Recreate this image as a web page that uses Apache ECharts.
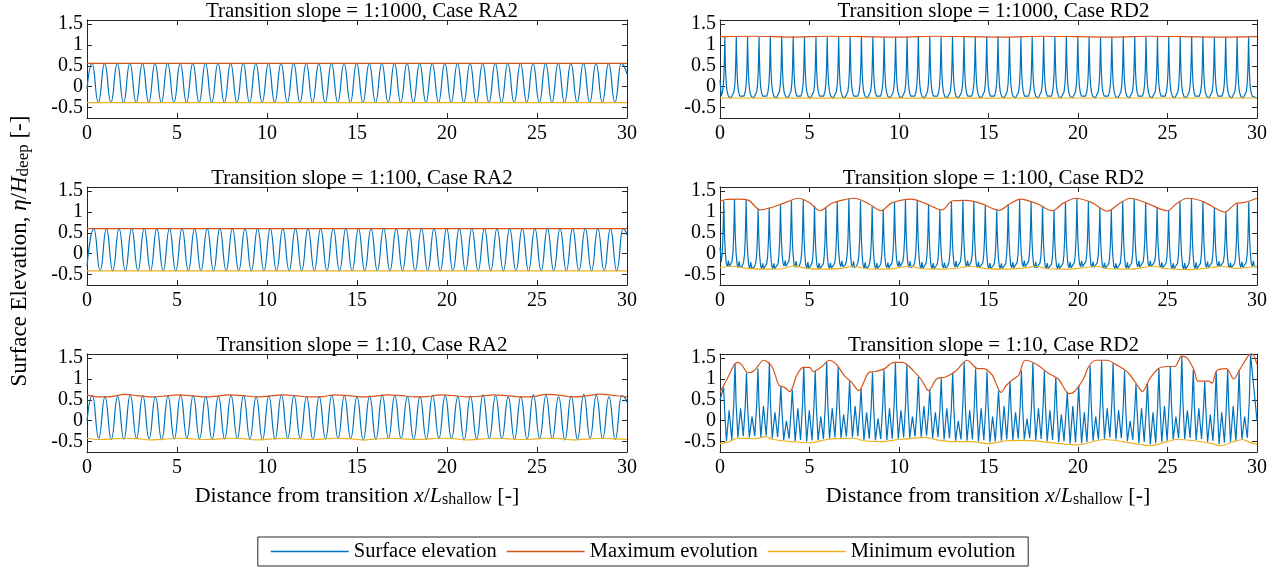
<!DOCTYPE html>
<html><head><meta charset="utf-8">
<script src="https://cdn.jsdelivr.net/npm/echarts@6/dist/echarts.min.js"></script>
<style>html,body{margin:0;padding:0;background:#fff}#c{width:1286px;height:571px}</style>
</head><body><div id="c"></div>
<script>
// ---------------- DATA ----------------
const xTickValues = [0, 5, 10, 15, 20, 25, 30];
const yTickValues = [-0.5, 0, 0.5, 1, 1.5];
const panelTitles = [
  'Transition slope = 1:1000, Case RA2', 'Transition slope = 1:1000, Case RD2',
  'Transition slope = 1:100, Case RA2', 'Transition slope = 1:100, Case RD2',
  'Transition slope = 1:10, Case RA2', 'Transition slope = 1:10, Case RD2'
];
const seriesNames = ['Surface elevation', 'Maximum evolution', 'Minimum evolution'];

// Panel A: 1:1000 RA2
const raA_crestX = [0.28,0.98,1.68,2.38,3.08,3.78,4.48,5.18,5.88,6.58,7.28,7.98,8.68,9.38,10.08,10.78,11.48,12.18,12.88,13.58,14.28,14.98,15.68,16.38,17.08,17.78,18.48,19.18,19.88,20.58,21.28,21.98,22.68,23.38,24.08,24.78,25.48,26.18,26.88,27.58,28.28,28.98,29.68];
const raA_crestY = [0.56,0.56,0.56,0.56,0.56,0.56,0.56,0.56,0.56,0.56,0.56,0.56,0.56,0.56,0.56,0.56,0.56,0.56,0.56,0.56,0.56,0.56,0.56,0.56,0.56,0.56,0.56,0.56,0.56,0.56,0.56,0.56,0.56,0.56,0.56,0.56,0.56,0.56,0.56,0.56,0.56,0.56,0.56];
const raA_troughY = [-0.38,-0.38,-0.38,-0.38,-0.38,-0.38,-0.38,-0.38,-0.38,-0.38,-0.38,-0.38,-0.38,-0.38,-0.38,-0.38,-0.38,-0.38,-0.38,-0.38,-0.38,-0.38,-0.38,-0.38,-0.38,-0.38,-0.38,-0.38,-0.38,-0.38,-0.38,-0.38,-0.38,-0.38,-0.38,-0.38,-0.38,-0.38,-0.38,-0.38,-0.38,-0.38];
const raA_ends = [-0.05, 0.3];
const maxA_x = [0, 30], maxA_y = [0.56, 0.56];
const minA_x = [0, 30], minA_y = [-0.38, -0.38];

// Panel B: 1:1000 RD2
const rdB_peakX = [0.27,0.91,1.54,2.18,2.81,3.45,4.09,4.72,5.36,5.99,6.63,7.27,7.9,8.54,9.17,9.81,10.45,11.08,11.72,12.35,12.99,13.63,14.26,14.9,15.53,16.17,16.81,17.44,18.08,18.71,19.35,19.99,20.62,21.26,21.89,22.53,23.17,23.8,24.44,25.07,25.71,26.35,26.98,27.62,28.25,28.89,29.53];
const rdB_peakY = [1.2,1.21,1.2,1.19,1.2,1.21,1.21,1.2,1.19,1.19,1.2,1.21,1.21,1.2,1.19,1.19,1.2,1.21,1.21,1.2,1.19,1.19,1.2,1.21,1.21,1.2,1.19,1.19,1.2,1.21,1.21,1.2,1.19,1.19,1.2,1.21,1.21,1.2,1.19,1.19,1.2,1.21,1.21,1.2,1.19,1.2,1.2];
const rdB_troughY = [-0.27,-0.27,-0.27,-0.27,-0.27,-0.27,-0.27,-0.27,-0.27,-0.27,-0.27,-0.27,-0.27,-0.27,-0.27,-0.27,-0.27,-0.27,-0.27,-0.27,-0.27,-0.27,-0.27,-0.27,-0.27,-0.27,-0.27,-0.27,-0.27,-0.27,-0.27,-0.27,-0.27,-0.27,-0.27,-0.27,-0.27,-0.27,-0.27,-0.27,-0.27,-0.27,-0.27,-0.27,-0.27,-0.27,-0.27,-0.27];
const rdB_shapeDx = [-0.3,-0.2,-0.13,-0.08,-0.045,-0.02,0,0.02,0.045,0.08,0.13,0.2,0.3];
const rdB_shapeFrac = [0,0.03,0.1,0.22,0.42,0.7,1,0.7,0.42,0.22,0.1,0.03,0];
const maxB_x = [0,2,4,6,8,10,12,14,16,18,20,22,24,26,28,30];
const maxB_y = [1.2,1.21,1.19,1.21,1.2,1.19,1.21,1.2,1.19,1.21,1.2,1.19,1.21,1.2,1.19,1.2];
const minB_x = [0, 10, 20, 30], minB_y = [-0.27, -0.275, -0.27, -0.27];

// Panel C: 1:100 RA2
const raC_crestX = [0.38,1.08,1.78,2.48,3.18,3.88,4.58,5.28,5.98,6.68,7.38,8.08,8.78,9.48,10.18,10.88,11.58,12.28,12.98,13.68,14.38,15.08,15.78,16.48,17.18,17.88,18.58,19.28,19.98,20.68,21.38,22.08,22.78,23.48,24.18,24.88,25.58,26.28,26.98,27.68,28.38,29.08,29.78];
const raC_crestY = [0.6,0.6,0.6,0.6,0.6,0.6,0.6,0.6,0.6,0.6,0.6,0.6,0.6,0.6,0.6,0.6,0.6,0.6,0.6,0.6,0.6,0.6,0.6,0.6,0.6,0.6,0.6,0.6,0.6,0.6,0.6,0.6,0.6,0.6,0.6,0.6,0.6,0.6,0.6,0.6,0.6,0.6,0.6];
const raC_troughY = [-0.41,-0.41,-0.41,-0.41,-0.41,-0.41,-0.41,-0.41,-0.41,-0.41,-0.41,-0.41,-0.41,-0.41,-0.41,-0.41,-0.41,-0.41,-0.41,-0.41,-0.41,-0.41,-0.41,-0.41,-0.41,-0.41,-0.41,-0.41,-0.41,-0.41,-0.41,-0.41,-0.41,-0.41,-0.41,-0.41,-0.41,-0.41,-0.41,-0.41,-0.41,-0.41];
const raC_ends = [-0.3, 0.45];
const maxC_x = [0, 30], maxC_y = [0.6, 0.6];
const minC_x = [0, 30], minC_y = [-0.41, -0.41];

// Panel D: 1:100 RD2
const rdD_peakX = [0.21,0.81,1.46,2.13,2.75,3.38,3.99,4.65,5.28,5.91,6.55,7.2,7.85,8.5,9.12,9.75,10.36,11.02,11.65,12.28,12.93,13.57,14.18,14.82,15.46,16.1,16.74,17.38,18.02,18.66,19.3,19.94,20.58,21.22,21.86,22.5,23.14,23.78,24.42,25.06,25.7,26.34,26.98,27.62,28.26,28.9,29.54];
const rdD_peakY = [1.28,1.31,1.29,1.08,1.1,1.18,1.28,1.3,1.15,1.1,1.25,1.31,1.27,1.14,1.06,1.24,1.29,1.28,1.17,1.06,1.26,1.28,1.25,1.16,1.06,1.18,1.3,1.25,1.15,1.05,1.24,1.33,1.25,1.12,1.06,1.25,1.32,1.23,1.12,1.05,1.27,1.32,1.25,1.12,1.02,1.2,1.24];
const rdD_troughY = [-0.33,-0.31,-0.33,-0.35,-0.36,-0.36,-0.3,-0.32,-0.35,-0.36,-0.35,-0.31,-0.33,-0.35,-0.36,-0.34,-0.31,-0.33,-0.35,-0.36,-0.34,-0.32,-0.31,-0.34,-0.36,-0.36,-0.34,-0.31,-0.34,-0.36,-0.36,-0.34,-0.31,-0.33,-0.35,-0.36,-0.35,-0.32,-0.31,-0.34,-0.36,-0.37,-0.36,-0.33,-0.31,-0.34,-0.33,-0.31];
const rdD_shapeDx = [-0.3,-0.22,-0.14,-0.09,-0.05,-0.022,0,0.022,0.05,0.09,0.14,0.2,0.26,0.31];
const rdD_shapeFrac = [0,0.02,0.08,0.2,0.42,0.7,1,0.7,0.42,0.2,0.05,0,0.09,0];
const maxD_x = [0,0.3,1.0,1.6,2.25,2.8,3.5,4.4,5.0,5.6,6.2,7.0,7.5,8.3,9.0,9.6,10.7,11.5,12.4,13.0,13.8,14.6,15.6,16.2,16.8,17.7,18.55,19.2,19.9,20.8,21.65,22.3,22.9,23.8,25.0,25.5,26.1,27.0,28.2,28.8,29.3,30];
const maxD_y = [1.25,1.3,1.31,1.28,1.05,1.1,1.2,1.33,1.22,1.03,1.2,1.3,1.33,1.2,1.03,1.22,1.31,1.2,1.05,1.27,1.28,1.2,1.04,1.2,1.31,1.2,1.03,1.22,1.33,1.22,1.02,1.2,1.33,1.22,1.03,1.2,1.33,1.25,1.0,1.2,1.23,1.33];
const minD_x = [0,0.7,1.5,2.5,3.5,4.1,4.8,5.8,6.8,7.4,8.2,9.4,10.6,11.3,12.6,13.5,14.0,14.8,16,17.2,17.6,18.3,19.5,20.4,21.0,21.7,23.0,24.2,25.0,26.3,27.5,28.0,28.8,29.5,30];
const minD_y = [-0.33,-0.3,-0.35,-0.37,-0.36,-0.29,-0.35,-0.37,-0.35,-0.3,-0.36,-0.37,-0.3,-0.36,-0.37,-0.33,-0.3,-0.35,-0.37,-0.33,-0.3,-0.36,-0.37,-0.33,-0.3,-0.36,-0.37,-0.3,-0.36,-0.38,-0.33,-0.3,-0.35,-0.33,-0.3];

// Panel E: 1:10 RA2
const raE_crestX = [0.3,1.0,1.7,2.4,3.1,3.8,4.5,5.2,5.9,6.6,7.3,8.0,8.7,9.4,10.1,10.8,11.5,12.2,12.9,13.6,14.3,15.0,15.7,16.4,17.1,17.8,18.5,19.2,19.9,20.6,21.3,22.0,22.7,23.4,24.1,24.8,25.5,26.2,26.9,27.6,28.3,29.0,29.7];
const raE_crestY = [0.61,0.57,0.58,0.62,0.6,0.57,0.59,0.62,0.6,0.57,0.59,0.61,0.6,0.57,0.59,0.62,0.6,0.57,0.58,0.61,0.6,0.57,0.59,0.62,0.6,0.57,0.58,0.61,0.6,0.57,0.59,0.62,0.6,0.57,0.58,0.62,0.61,0.57,0.59,0.63,0.61,0.57,0.6];
const raE_troughY = [-0.42,-0.45,-0.44,-0.42,-0.43,-0.46,-0.44,-0.42,-0.43,-0.45,-0.44,-0.42,-0.43,-0.46,-0.44,-0.42,-0.43,-0.45,-0.44,-0.42,-0.43,-0.46,-0.44,-0.42,-0.43,-0.45,-0.44,-0.42,-0.43,-0.46,-0.44,-0.42,-0.43,-0.45,-0.44,-0.42,-0.43,-0.46,-0.44,-0.42,-0.43,-0.45];
const raE_ends = [0.0, 0.45];
const maxE_x = [0,0.6,1.3,2.1,2.8,3.5,4.3,5.0,5.7,6.5,7.2,7.9,8.7,9.4,10.1,10.9,11.6,12.3,13.1,13.8,14.5,15.3,16.0,16.7,17.5,18.2,18.9,19.7,20.4,21.1,21.9,22.6,23.3,24.1,24.8,25.5,26.3,27.0,27.7,28.5,29.2,30];
const maxE_y = [0.62,0.57,0.58,0.63,0.6,0.57,0.59,0.62,0.6,0.57,0.59,0.62,0.6,0.57,0.59,0.62,0.6,0.57,0.58,0.62,0.6,0.57,0.59,0.62,0.6,0.57,0.58,0.62,0.6,0.57,0.59,0.62,0.6,0.57,0.58,0.63,0.61,0.57,0.59,0.64,0.61,0.57];
const minE_x = [0,0.6,1.3,2.1,2.8,3.5,4.3,5.0,5.7,6.5,7.2,7.9,8.7,9.4,10.1,10.9,11.6,12.3,13.1,13.8,14.5,15.3,16.0,16.7,17.5,18.2,18.9,19.7,20.4,21.1,21.9,22.6,23.3,24.1,24.8,25.5,26.3,27.0,27.7,28.5,29.2,30];
const minE_y = [-0.42,-0.45,-0.44,-0.42,-0.43,-0.46,-0.44,-0.42,-0.43,-0.45,-0.44,-0.42,-0.43,-0.46,-0.44,-0.42,-0.43,-0.45,-0.44,-0.42,-0.43,-0.46,-0.44,-0.42,-0.43,-0.45,-0.44,-0.42,-0.43,-0.46,-0.44,-0.42,-0.43,-0.45,-0.44,-0.42,-0.43,-0.46,-0.44,-0.42,-0.43,-0.45];

// Panel F: 1:10 RD2
const rdF_peakX = [0.2,0.84,1.48,2.12,2.76,3.4,4.04,4.68,5.32,5.96,6.6,7.24,7.88,8.52,9.16,9.8,10.44,11.08,11.72,12.36,13.0,13.64,14.28,14.92,15.56,16.2,16.84,17.48,18.12,18.76,19.4,20.04,20.68,21.32,21.96,22.6,23.24,23.88,24.52,25.16,25.8,26.44,27.08,27.72,28.36,29.0,29.64];
const rdF_peakY = [0.8,1.38,1.15,1.25,1.4,0.82,0.75,1.28,1.2,1.42,1.3,0.95,0.78,1.15,1.22,1.4,1.35,1.05,0.75,1.02,1.15,1.42,1.25,1.18,0.72,0.95,1.2,1.4,1.2,1.05,0.68,0.85,1.32,1.45,1.38,1.2,0.88,0.9,1.25,1.3,1.55,1.22,0.95,1.18,1.22,1.2,1.6];
const rdF_subY = [0.25,0.3,0.1,0.35,0.2,0.0,0.3,0.25,0.1,0.3,0.15,0.35,0.2,0.05,0.3,0.25,0.1,0.35,0.2,0.3,0.0,0.25,0.3,0.1,0.35,0.2,0.05,0.3,0.25,0.15,0.35,0.2,0.1,0.3,0.25,0.0,0.3,0.2,0.35,0.1,0.25,0.3,0.15,0.2,0.35,0.1];
const rdF_troughY = [-0.49,-0.4,-0.4,-0.39,-0.42,-0.46,-0.49,-0.5,-0.47,-0.43,-0.41,-0.4,-0.46,-0.47,-0.46,-0.43,-0.41,-0.39,-0.42,-0.45,-0.48,-0.48,-0.5,-0.52,-0.48,-0.46,-0.45,-0.47,-0.49,-0.52,-0.55,-0.54,-0.48,-0.43,-0.45,-0.49,-0.54,-0.57,-0.51,-0.45,-0.44,-0.47,-0.51,-0.56,-0.51,-0.44];
const rdF_ends = [0.5, 0.0];
const maxF_x = [0,0.4,0.95,1.2,1.55,1.9,2.45,2.9,3.3,3.6,3.9,4.3,4.65,5.0,5.2,5.7,6.1,6.5,7.0,7.3,7.75,8.3,8.7,9.2,9.7,10.2,10.8,11.3,11.65,12.1,12.6,13.2,13.8,14.4,14.7,15.2,15.7,16.0,16.4,16.7,17.05,17.7,18.3,18.9,19.5,19.8,20.3,20.6,21.0,21.6,22.3,22.8,23.4,23.6,24.0,24.5,25.0,25.4,25.8,26.1,26.5,26.7,27.3,27.5,27.75,28.3,28.7,29.0,29.5,29.7,30];
const maxF_y = [0.68,1.0,1.4,1.35,1.15,1.2,1.45,1.3,0.85,0.8,0.7,1.1,1.28,1.28,1.18,1.3,1.45,1.35,1.05,0.95,0.72,1.15,1.18,1.25,1.4,1.4,1.2,0.95,0.72,1.0,1.05,1.2,1.45,1.25,1.25,1.1,0.68,0.85,1.0,1.1,1.45,1.35,1.15,1.0,0.65,0.7,1.0,1.3,1.45,1.45,1.3,1.15,0.8,0.7,1.0,1.25,1.3,1.3,1.55,1.5,1.2,0.95,0.95,0.9,1.2,1.25,1.0,1.2,1.55,1.62,1.35];
const minF_x = [0,0.5,1.0,2.0,2.5,3.0,4.0,5.0,6.0,6.5,7.5,8.0,9.0,10.0,10.6,11.5,12.0,13.0,14.0,15.0,16.0,17.0,18.0,19.0,20.0,21.0,21.5,22.5,23.5,24.0,25.0,25.5,26.5,27.5,28.0,28.7,29.2,29.6,30];
const minF_y = [-0.55,-0.5,-0.42,-0.43,-0.38,-0.45,-0.5,-0.53,-0.45,-0.43,-0.42,-0.48,-0.5,-0.45,-0.43,-0.4,-0.45,-0.5,-0.5,-0.55,-0.48,-0.47,-0.5,-0.55,-0.58,-0.48,-0.45,-0.5,-0.57,-0.6,-0.5,-0.45,-0.48,-0.55,-0.6,-0.5,-0.45,-0.52,-0.56];

// ---------------- BUILD ----------------
function zip(xs, ys) { return xs.map((x, i) => [x, ys[i]]); }
function raLine(cx, cy, ty, ends) {
  const pts = [[0, ends[0]]];
  for (let i = 0; i < cx.length; i++) {
    pts.push([cx[i], cy[i]]);
    if (i < cx.length - 1) pts.push([(cx[i] + cx[i + 1]) / 2, ty[i]]);
  }
  pts.push([30, ends[1]]);
  return pts;
}
function rdLine(px, py, ty, dxs, fr) {
  const pts = [];
  for (let i = 0; i < px.length; i++) {
    for (let j = 0; j < dxs.length; j++) {
      const x = px[i] + dxs[j];
      if (x < 0 || x > 30) continue;
      const T = dxs[j] < 0 ? ty[i] : ty[i + 1];
      pts.push([x, T + fr[j] * (py[i] - T)]);
    }
  }
  pts.unshift([0, ty[0] + 0.3 * (py[0] - ty[0])]);
  pts.push([30, ty[ty.length - 1]]);
  return pts;
}
function rdFLine(px, py, sy, ty, ends) {
  const pts = [[0, ends[0]]];
  for (let i = 0; i < px.length; i++) {
    pts.push([px[i], py[i]]);
    if (i < px.length - 1) {
      const x = px[i], nx = px[i + 1], T = ty[i];
      pts.push([x + 0.06, 0.3 * py[i]]);
      pts.push([x + 0.16, T]);
      pts.push([x + 0.31, sy[i]]);
      pts.push([x + 0.46, T + 0.03]);
      pts.push([nx - 0.07, 0.3 * py[i + 1]]);
    }
  }
  pts.push([30, ends[1]]);
  return pts;
}

const surface = [
  {pts: raLine(raA_crestX, raA_crestY, raA_troughY, raA_ends), smooth: true},
  {pts: rdLine(rdB_peakX, rdB_peakY, rdB_troughY, rdB_shapeDx, rdB_shapeFrac), smooth: false},
  {pts: raLine(raC_crestX, raC_crestY, raC_troughY, raC_ends), smooth: true},
  {pts: rdLine(rdD_peakX, rdD_peakY, rdD_troughY, rdD_shapeDx, rdD_shapeFrac), smooth: false},
  {pts: raLine(raE_crestX, raE_crestY, raE_troughY, raE_ends), smooth: true},
  {pts: rdFLine(rdF_peakX, rdF_peakY, rdF_subY, rdF_troughY, rdF_ends), smooth: false}
];
const maxes = [zip(maxA_x, maxA_y), zip(maxB_x, maxB_y), zip(maxC_x, maxC_y), zip(maxD_x, maxD_y), zip(maxE_x, maxE_y), zip(maxF_x, maxF_y)];
const mins = [zip(minA_x, minA_y), zip(minB_x, minB_y), zip(minC_x, minC_y), zip(minD_x, minD_y), zip(minE_x, minE_y), zip(minF_x, minF_y)];

// ---------------- LAYOUT / STYLE ----------------
const FONT = '"Liberation Serif","Times New Roman",serif';
const COLORS = ['#0072BD', '#D95319', '#EDB120'];
const AX = '#262626';
const rowTop = [20, 187, 354], rowH = 98;
const colLeft = [87, 720], colW = [540, 537];

const grid = [], xAxis = [], yAxis = [], series = [], title = [];
for (let p = 0; p < 6; p++) {
  const r = Math.floor(p / 2), c = p % 2;
  grid.push({left: colLeft[c], top: rowTop[r], width: colW[c], height: rowH, containLabel: false});
  const common = {gridIndex: p, type: 'value', min: 0, max: 30, interval: 5,
    axisLine: {show: true, onZero: false, lineStyle: {color: AX, width: 1}},
    axisTick: {show: true, inside: true, length: 5, lineStyle: {color: AX}},
    splitLine: {show: false}};
  xAxis.push(Object.assign({}, common, {position: 'bottom',
    axisLabel: {show: true, margin: 6, fontFamily: FONT, fontSize: 20, color: '#000'}}));
  xAxis.push(Object.assign({}, common, {position: 'top', axisLabel: {show: false}}));
  const ycommon = {gridIndex: p, type: 'value', min: -0.75, max: 1.6,
    axisLine: {show: true, onZero: false, lineStyle: {color: AX, width: 1}},
    axisTick: {show: true, inside: true, length: 5, customValues: yTickValues, lineStyle: {color: AX}},
    splitLine: {show: false}};
  yAxis.push(Object.assign({}, ycommon, {position: 'left',
    axisLabel: {show: true, margin: 4, customValues: yTickValues, fontFamily: FONT, fontSize: 20, color: '#000'}}));
  yAxis.push(Object.assign({}, ycommon, {position: 'right', axisLabel: {show: false}}));

  series.push({name: seriesNames[0], type: 'line', xAxisIndex: 2 * p, yAxisIndex: 2 * p,
    data: surface[p].pts, smooth: surface[p].smooth ? 0.5 : false, smoothMonotone: 'x', symbol: 'none',
    lineStyle: {color: COLORS[0], width: 1.2}, itemStyle: {color: COLORS[0]}, animation: false, clip: true, z: 2});
  series.push({name: seriesNames[1], type: 'line', xAxisIndex: 2 * p, yAxisIndex: 2 * p,
    data: maxes[p], smooth: 0.3, symbol: 'none',
    lineStyle: {color: COLORS[1], width: 1.2}, itemStyle: {color: COLORS[1]}, animation: false, clip: true, z: 3});
  series.push({name: seriesNames[2], type: 'line', xAxisIndex: 2 * p, yAxisIndex: 2 * p,
    data: mins[p], smooth: 0.3, symbol: 'none',
    lineStyle: {color: COLORS[2], width: 1.2}, itemStyle: {color: COLORS[2]}, animation: false, clip: true, z: 3});

  title.push({text: panelTitles[p], left: colLeft[c] + colW[c] / 2, top: rowTop[r] - 24, textAlign: 'center',
    textStyle: {fontFamily: FONT, fontSize: 21, fontWeight: 'normal', color: '#000'}});
}

function richFor(fs, sfs, lh, pad) {
  return {
    a: {fontFamily: FONT, fontSize: fs, color: '#000', lineHeight: lh, verticalAlign: 'top'},
    i: {fontFamily: FONT, fontSize: fs, fontStyle: 'italic', color: '#000', lineHeight: lh, verticalAlign: 'top'},
    s: {fontFamily: FONT, fontSize: sfs, color: '#000', lineHeight: sfs, padding: [pad, 0, 0, 0], verticalAlign: 'bottom'}
  };
}
const xName = '{a|Distance from transition }{i|x}{a|/}{i|L}{s|shallow}{a| [-]}';
const graphic = [
  {type: 'text', x: 357, y: 485, style: {text: xName, align: 'center', rich: richFor(22, 16, 23, 13)}},
  {type: 'text', x: 988, y: 485, style: {text: xName, align: 'center', rich: richFor(22, 16, 23, 13)}},
  {type: 'text', x: 8, y: 251, rotation: Math.PI / 2,
    style: {text: '{a|Surface Elevation, }{i|η}{a|/}{i|H}{s|deep}{a| [-]}', align: 'center', rich: richFor(23, 17, 24, 13)}}
];

const chart = echarts.init(document.getElementById('c'), null, {renderer: 'canvas'});
chart.setOption({
  animation: false,
  backgroundColor: '#fff',
  title: title,
  grid: grid, xAxis: xAxis, yAxis: yAxis, series: series, graphic: graphic,
  legend: {data: seriesNames, left: 'center', top: 537, icon: 'rect', itemWidth: 78, itemHeight: 1.5, itemGap: 10,
    borderColor: '#262626', borderWidth: 1, padding: [4, 13, 4, 13],
    textStyle: {fontFamily: FONT, fontSize: 20.5, color: '#000', lineHeight: 21}}
});
</script></body></html>
